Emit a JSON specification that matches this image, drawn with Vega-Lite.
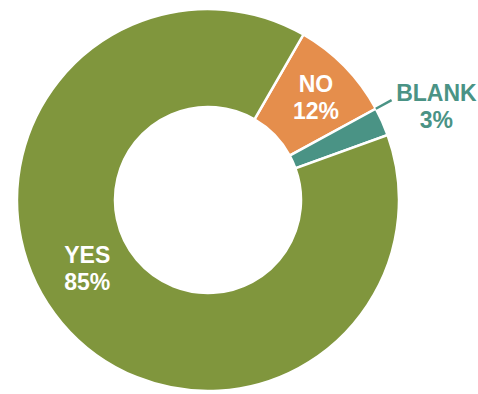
{
  "$schema": "https://vega.github.io/schema/vega-lite/v6.json",
  "width": 416,
  "height": 388,
  "autosize": {"type": "none"},
  "padding": {"left": 0, "top": 6, "right": 62, "bottom": 0},
  "background": "#ffffff",
  "config": {
    "view": {"stroke": null},
    "text": {"font": "Liberation Sans", "fontWeight": "bold", "fontSize": 23, "lineHeight": 27, "align": "center", "baseline": "middle", "lineBreak": "\n"}
  },
  "data": {
    "values": [
      {"answer": "NO", "share": 8.75, "label": "12%"},
      {"answer": "BLANK", "share": 2.4, "label": "3%"},
      {"answer": "YES", "share": 88.85, "label": "85%"}
    ]
  },
  "transform": [
    {"stack": "share", "groupby": [], "sort": [{"field": "answer", "order": "descending"}], "as": ["s0", "s1"], "offset": "zero"},
    {"calculate": "(datum.s0 + datum.s1) / 2", "as": "mid"},
    {"calculate": "datum.answer + '\\n' + datum.label", "as": "txt"}
  ],
  "layer": [
    {
      "mark": {"type": "arc", "radius": 191, "radius2": 93, "stroke": "#ffffff", "strokeWidth": 2.5},
      "encoding": {
        "theta": {"field": "s0", "type": "quantitative", "scale": {"domain": [0, 100], "range": [1.2235, 7.5067]}},
        "theta2": {"field": "s1"},
        "color": {
          "field": "answer",
          "type": "nominal",
          "scale": {"domain": ["YES", "NO", "BLANK"], "range": ["#80963D", "#E58E4C", "#4A9385"]},
          "legend": null
        }
      }
    },
    {
      "transform": [{"filter": "datum.answer === 'BLANK'"}],
      "mark": {"type": "arc", "radius": 209, "radius2": 191, "stroke": "#4A9385", "strokeWidth": 2.5, "fill": null},
      "encoding": {
        "theta": {"field": "s0", "type": "quantitative"},
        "theta2": {"field": "s0"}
      }
    },
    {
      "transform": [{"filter": "datum.answer === 'NO'"}],
      "mark": {"type": "text", "radius": 148, "color": "#ffffff", "dx": 2, "dy": -12},
      "encoding": {
        "theta": {"field": "mid", "type": "quantitative"},
        "text": {"field": "txt", "type": "nominal"}
      }
    },
    {
      "transform": [{"filter": "datum.answer === 'YES'"}],
      "mark": {"type": "text", "radius": 138, "color": "#ffffff", "dx": -15, "dy": -33},
      "encoding": {
        "theta": {"field": "mid", "type": "quantitative"},
        "text": {"field": "txt", "type": "nominal"}
      }
    },
    {
      "transform": [{"filter": "datum.answer === 'BLANK'"}],
      "mark": {"type": "text", "radius": 245, "color": "#4A9385", "dx": 5, "dy": -5},
      "encoding": {
        "theta": {"field": "mid", "type": "quantitative"},
        "text": {"field": "txt", "type": "nominal"}
      }
    }
  ]
}
